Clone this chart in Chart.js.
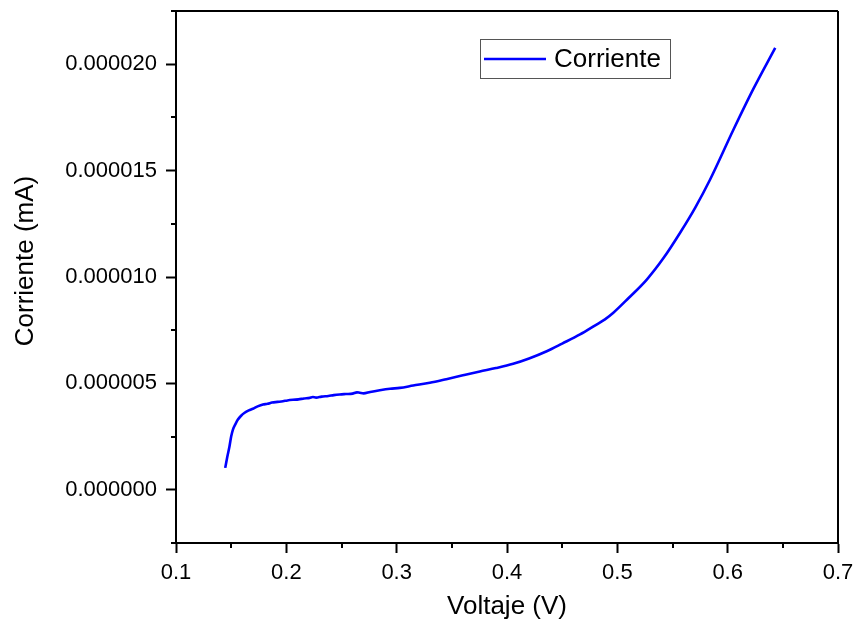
<!DOCTYPE html>
<html>
<head>
<meta charset="utf-8">
<script src="https://cdn.jsdelivr.net/npm/chart.js@4"></script>
<style>
html,body{margin:0;padding:0;background:#fff;}
#wrap{width:856px;height:628px;position:relative;}
</style>
</head>
<body>
<div id="wrap"><canvas id="c" width="856" height="628"></canvas></div>
<script>
// ---- data ----
const voltage = [0.1446,0.1465,0.1485,0.1500,0.1516,0.1540,0.1561,0.1590,0.1622,0.1660,0.1697,0.1740,0.1788,0.1830,0.1870,0.1920,0.1969,0.2010,0.2060,0.2110,0.2160,0.2211,0.2240,0.2270,0.2320,0.2380,0.2430,0.2484,0.2540,0.2600,0.2640,0.2665,0.2700,0.2760,0.2847,0.2940,0.3028,0.3150,0.3300,0.3450,0.3600,0.3754,0.3900,0.4056,0.4200,0.4360,0.4500,0.4662,0.4800,0.4888,0.4964,0.5100,0.5267,0.5420,0.5569,0.5705,0.5841,0.6053,0.6234,0.6431];
const current = [1.03e-6,1.55e-6,2.05e-6,2.50e-6,2.83e-6,3.10e-6,3.30e-6,3.48e-6,3.62e-6,3.73e-6,3.81e-6,3.92e-6,4.01e-6,4.04e-6,4.10e-6,4.13e-6,4.16e-6,4.20e-6,4.23e-6,4.25e-6,4.29e-6,4.32e-6,4.36e-6,4.33e-6,4.38e-6,4.41e-6,4.45e-6,4.48e-6,4.50e-6,4.52e-6,4.58e-6,4.56e-6,4.53e-6,4.60e-6,4.68e-6,4.75e-6,4.79e-6,4.90e-6,5.03e-6,5.20e-6,5.38e-6,5.56e-6,5.72e-6,5.92e-6,6.17e-6,6.51e-6,6.87e-6,7.30e-6,7.73e-6,8.01e-6,8.32e-6,9.00e-6,9.88e-6,10.90e-6,12.08e-6,13.25e-6,14.58e-6,16.93e-6,18.85e-6,20.77e-6];
const xTicks = [0.1,0.2,0.3,0.4,0.5,0.6,0.7];
const xMinorTicks = [0.15,0.25,0.35,0.45,0.55,0.65];
const yTicks = [0,5e-6,10e-6,15e-6,20e-6];
const yMinorTicks = [-2.5e-6,2.5e-6,7.5e-6,12.5e-6,17.5e-6,22.5e-6];
const seriesName = 'Corriente';
const xTitle = 'Voltaje (V)';
const yTitle = 'Corriente (mA)';

const FONT = "'Liberation Sans', Arial, sans-serif";

const framePlugin = {
  id: 'frame',
  afterDraw(chart) {
    const ctx = chart.ctx, a = chart.chartArea;
    const xs = chart.scales.x, ys = chart.scales.y;
    ctx.save();
    ctx.strokeStyle = '#000';
    ctx.lineWidth = 2;
    ctx.beginPath();
    ctx.moveTo(a.left, a.top); ctx.lineTo(a.right, a.top);
    ctx.moveTo(a.right, a.top); ctx.lineTo(a.right, a.bottom);
    ctx.stroke();
    ctx.beginPath();
    xMinorTicks.forEach(v => {
      const px = Math.round(xs.getPixelForValue(v));
      ctx.moveTo(px, a.bottom); ctx.lineTo(px, a.bottom + 5);
    });
    yMinorTicks.forEach(v => {
      const py = Math.round(ys.getPixelForValue(v));
      ctx.moveTo(a.left, py); ctx.lineTo(a.left - 5, py);
    });
    ctx.stroke();
    ctx.fillStyle = '#000';
    ctx.font = '26px ' + FONT;
    ctx.textAlign = 'center';
    ctx.textBaseline = 'middle';
    ctx.translate(26, 261);
    ctx.rotate(-Math.PI / 2);
    ctx.fillText(yTitle, 0, 0);
    ctx.restore();

    ctx.save();
    ctx.strokeStyle = '#555';
    ctx.lineWidth = 1;
    ctx.fillStyle = '#fff';
    ctx.fillRect(480.5, 39.5, 190, 39);
    ctx.strokeRect(480.5, 39.5, 190, 39);
    ctx.strokeStyle = '#0000ff';
    ctx.lineWidth = 2.5;
    ctx.beginPath();
    ctx.moveTo(484, 59); ctx.lineTo(546, 59);
    ctx.stroke();
    ctx.fillStyle = '#000';
    ctx.font = '26px ' + FONT;
    ctx.textAlign = 'left';
    ctx.textBaseline = 'middle';
    ctx.fillText(seriesName, 554, 60);
    ctx.restore();
  }
};

new Chart(document.getElementById('c'), {
  type: 'line',
  data: {
    datasets: [{
      label: seriesName,
      data: voltage.map((v, i) => ({x: v, y: current[i]})),
      borderColor: '#0000ff',
      borderWidth: 2.6,
      pointRadius: 0,
      cubicInterpolationMode: 'monotone',
      fill: false
    }]
  },
  options: {
    responsive: false,
    animation: false,
    devicePixelRatio: 1,
    layout: {padding: {top: 11, right: 18, left: 0, bottom: 0}},
    plugins: {legend: {display: false}, tooltip: {enabled: false}},
    scales: {
      x: {
        type: 'linear',
        min: 0.1, max: 0.7,
        afterBuildTicks: s => { s.ticks = xTicks.map(v => ({value: v})); },
        afterFit: s => { s.height = 85; s.paddingLeft = 0; s.paddingRight = 0; },
        border: {display: true, color: '#000', width: 2},
        grid: {drawOnChartArea: false, drawTicks: true, tickLength: 10, tickColor: '#000', tickWidth: 2},
        ticks: {color: '#000', font: {family: FONT, size: 22}, padding: 7, maxRotation: 0,
          callback: v => Number(v).toFixed(1)},
        title: {display: true, text: xTitle, color: '#000', font: {family: FONT, size: 26}, padding: {top: 2, bottom: 6}}
      },
      y: {
        type: 'linear',
        min: -2.5e-6, max: 22.5e-6,
        afterBuildTicks: s => { s.ticks = yTicks.map(v => ({value: v})); },
        afterFit: s => { s.width = 176; s.paddingTop = 0; s.paddingBottom = 0; },
        border: {display: true, color: '#000', width: 2},
        grid: {drawOnChartArea: false, drawTicks: true, tickLength: 10, tickColor: '#000', tickWidth: 2},
        ticks: {color: '#000', font: {family: FONT, size: 22}, padding: 9,
          callback: v => Number(v).toFixed(6)}
      }
    }
  },
  plugins: [framePlugin]
});
</script>
</body>
</html>
